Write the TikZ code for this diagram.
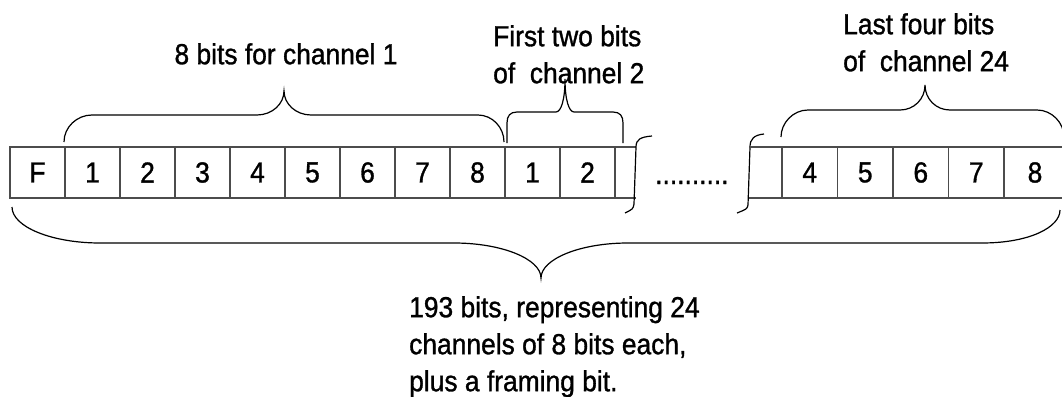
\documentclass[tikz,border=0pt]{standalone}
\usepackage{fontspec}
\setmainfont{Liberation Sans}[FakeStretch=0.91,FakeBold=1.1]
\usepackage{tikz}

\begin{document}
\begin{tikzpicture}[
  x=1pt, y=-1pt,
  cell/.style={rectangle, draw=black!70, line width=1.4pt, outer sep=0pt, inner sep=0pt, minimum width=55pt, minimum height=51pt, font=\fontsize{29}{37}\selectfont},
  rcell/.style={cell, minimum width=55.5pt},
  rule/.style={draw=black!70, line width=1.4pt},
  brace/.style={draw=black, line width=1.2pt},
  lbl/.style={inner sep=0pt, font=\fontsize{29}{37}\selectfont}
]
\useasboundingbox (0,0) rectangle (1062,396);

% Framing bit and channel 1
\node[cell] (fr) at (37.5,172.5) {F};
\node[cell] (ch1a) at (92.5,172.5) {1};
\node[cell] (ch1b) at (147.5,172.5) {2};
\node[cell] (ch1c) at (202.5,172.5) {3};
\node[cell] (ch1d) at (257.5,172.5) {4};
\node[cell] (ch1e) at (312.5,172.5) {5};
\node[cell] (ch1f) at (367.5,172.5) {6};
\node[cell] (ch1g) at (422.5,172.5) {7};
\node[cell] (ch1h) at (477.5,172.5) {8};

% Start of channel 2
\node[cell] (ch2a) at (532.5,172.5) {1};
\node[cell] (ch2b) at (587.5,172.5) {2};
\coordinate (cutT) at (636,147);
\coordinate (cutB) at (636,198);
\draw[rule] (ch2b.north east) -- (cutT);
\draw[rule] (ch2b.south east) -- (cutB);
\draw[brace] (652,136) .. controls (641,137) and (636,139) .. (636,147)
  -- (634,204) .. controls (633,209) .. (625,213);

% Gap
\node[lbl, anchor=base west] (dots) at (655,184) {..........};

% End of channel 24
\coordinate (openT) at (749,147);
\coordinate (openB) at (749,198);
\draw[brace] (764,134) .. controls (754,135) and (750,139) .. (750,147)
  -- (748,205) .. controls (747,209) .. (737,213);
\node[rcell] (ch24e) at (809.75,172.5) {4};
\node[rcell] (ch24f) at (865.25,172.5) {5};
\node[rcell] (ch24g) at (920.75,172.5) {6};
\node[rcell] (ch24h) at (976.25,172.5) {7};
\node[cell, minimum width=62pt] (ch24i) at (1035,172.5) {8};
\draw[rule] (openT) -- (ch24e.north west);
\draw[rule] (openB) -- (ch24e.south west);

% Braces above
\draw[brace] (64,142) .. controls (64,127) and (77,115) .. (92,115) -- (257,115)
  .. controls (272,115) and (284,104) .. (284,91)
  .. controls (284,104) and (296,115) .. (311,115) -- (478,115)
  .. controls (492,115) and (504,127) .. (504,142);
\draw[brace] (507,143) -- (507,123) .. controls (507,116) and (510,112) .. (517,112) -- (556,112)
  .. controls (561,112) and (565,100) .. (565,79)
  .. controls (565,100) and (569,112) .. (574,112) -- (613,112)
  .. controls (620,112) and (623,116) .. (623,123) -- (623,143);
\draw[brace] (781,137) .. controls (781,123) and (793,110) .. (808,110) -- (900,110)
  .. controls (914,110) and (925,99) .. (925,85)
  .. controls (925,99) and (936,110) .. (950,110) -- (1037,110)
  .. controls (1052,110) and (1064,123) .. (1064,137);

% Brace below
\draw[brace] (12,207) .. controls (12,227) and (52,243) .. (100,243) -- (454,243)
  .. controls (502,243) and (541,259) .. (541,278)
  .. controls (541,259) and (580,243) .. (628,243) -- (982,243)
  .. controls (1030,243) and (1060,227) .. (1060,210);

% Labels
\node[lbl, anchor=north] (lblch1) at (286,43) {8 bits for channel 1};
\node[lbl, anchor=north west, align=left] (lblch2) at (493,25) {First two bits\\of~ channel 2};
\node[lbl, anchor=north west, align=left] (lblch24) at (843,13) {Last four bits\\of~ channel 24};
\node[lbl, anchor=north west, align=left] (lblall) at (409,296) {193 bits, representing 24\\channels of 8 bits each,\\plus a framing bit.};

\end{tikzpicture}
\end{document}
